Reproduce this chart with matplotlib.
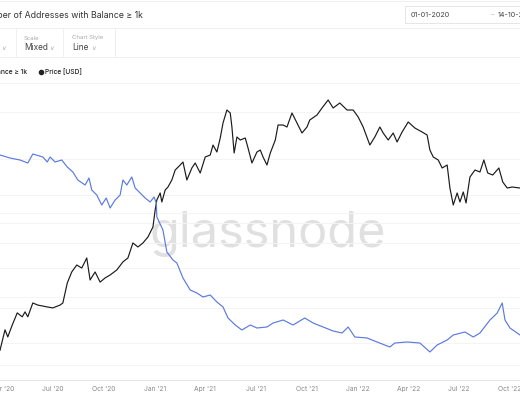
import matplotlib
matplotlib.use("Agg")
import matplotlib.pyplot as plt
import matplotlib.dates as mdates
import pandas as pd

plt.rcParams["font.family"] = ["Inter", "DejaVu Sans"]

# Price [USD] (black, log axis)
price_dates = [
    "2020-03-28", "2020-04-06", "2020-04-11", "2020-04-19", "2020-04-28", "2020-05-07",
    "2020-05-12", "2020-05-17", "2020-05-26", "2020-06-04", "2020-06-21", "2020-07-01",
    "2020-07-14", "2020-07-19", "2020-07-27", "2020-08-04", "2020-08-13", "2020-08-22",
    "2020-08-31", "2020-09-06", "2020-09-15", "2020-09-24", "2020-10-03", "2020-10-12",
    "2020-10-24", "2020-11-04", "2020-11-13", "2020-11-22", "2020-12-01", "2020-12-10",
    "2020-12-19", "2020-12-28", "2021-01-01", "2021-01-04", "2021-01-10", "2021-01-13",
    "2021-01-19", "2021-01-24", "2021-01-31", "2021-02-06", "2021-02-15", "2021-02-20",
    "2021-02-27", "2021-03-08", "2021-03-14", "2021-03-23", "2021-04-01", "2021-04-10",
    "2021-04-15", "2021-04-22", "2021-04-28", "2021-05-03", "2021-05-10", "2021-05-16",
    "2021-05-19", "2021-05-23", "2021-05-28", "2021-06-03", "2021-06-12", "2021-06-17",
    "2021-06-24", "2021-07-03", "2021-07-09", "2021-07-14", "2021-07-21", "2021-07-27",
    "2021-08-05", "2021-08-10", "2021-08-19", "2021-08-26", "2021-09-04", "2021-09-13",
    "2021-09-22", "2021-10-01", "2021-10-06", "2021-10-19", "2021-10-28", "2021-11-08",
    "2021-11-17", "2021-11-29", "2021-12-12", "2021-12-23", "2022-01-01", "2022-01-10",
    "2022-01-22", "2022-01-31", "2022-02-09", "2022-02-15", "2022-02-24", "2022-03-05",
    "2022-03-12", "2022-03-21", "2022-04-01", "2022-04-13", "2022-04-26", "2022-05-05",
    "2022-05-10", "2022-05-16", "2022-05-25", "2022-06-01", "2022-06-10", "2022-06-15",
    "2022-06-21", "2022-06-28", "2022-07-03", "2022-07-09", "2022-07-14", "2022-07-21",
    "2022-07-30", "2022-08-08", "2022-08-15", "2022-08-22", "2022-08-31", "2022-09-11",
    "2022-09-18", "2022-09-26", "2022-10-05", "2022-10-19",
]
price_usd = [
    105, 144, 129, 155, 187, 176,
    190, 176, 218, 211, 205, 202,
    211, 218, 297, 352, 392, 374,
    437, 311, 352, 301, 321, 336,
    363, 411, 437, 551, 518, 551,
    604, 705, 917, 1070, 1193, 1038,
    1249, 1308, 1458, 1701, 1838, 1925,
    1458, 1755, 1896, 1624, 2080, 2145,
    2503, 2247, 2790, 3518, 4300, 4106,
    3307, 2213, 2834, 2705, 2790, 2390,
    1896, 2247, 2317, 2080, 1838, 2213,
    2705, 3410, 3410, 3307, 4106, 3518,
    3014, 3307, 3685, 3981, 4436, 5019,
    4436, 4792, 4300, 4300, 3860, 3307,
    2503, 2834, 3307, 3014, 2705, 3014,
    2623, 3060, 3573, 3255, 3060, 2922,
    2317, 2080, 1986, 1755, 1838, 1288,
    991, 1193, 1038, 1211, 1022, 1527,
    1701, 1650, 1986, 1624, 1575, 1755,
    1413, 1288, 1308, 1288,
]

# Number of Addresses with Balance >= 1k (blue, linear axis)
addr_dates = [
    "2020-03-28", "2020-04-15", "2020-05-03", "2020-05-17", "2020-05-26", "2020-06-13",
    "2020-06-21", "2020-06-26", "2020-07-05", "2020-07-17", "2020-07-27", "2020-08-06",
    "2020-08-15", "2020-08-28", "2020-09-04", "2020-09-09", "2020-09-18", "2020-09-27",
    "2020-10-05", "2020-10-12", "2020-10-21", "2020-10-30", "2020-11-04", "2020-11-11",
    "2020-11-20", "2020-11-26", "2020-12-05", "2020-12-14", "2020-12-23", "2020-12-30",
    "2021-01-03", "2021-01-04", "2021-01-15", "2021-01-22", "2021-02-02", "2021-02-09",
    "2021-02-20", "2021-03-05", "2021-03-17", "2021-03-28", "2021-04-10", "2021-04-22",
    "2021-05-03", "2021-05-12", "2021-05-25", "2021-06-06", "2021-06-21", "2021-07-03",
    "2021-07-21", "2021-08-01", "2021-08-19", "2021-09-06", "2021-09-27", "2021-10-12",
    "2021-10-30", "2021-11-17", "2021-12-03", "2021-12-14", "2021-12-26", "2022-01-17",
    "2022-02-04", "2022-02-27", "2022-03-08", "2022-03-30", "2022-04-22", "2022-05-10",
    "2022-05-23", "2022-06-10", "2022-06-21", "2022-07-12", "2022-07-27", "2022-08-08",
    "2022-08-26", "2022-09-08", "2022-09-17", "2022-09-22", "2022-10-01", "2022-10-19",
]
addr_count = [
    1445, 1442, 1440, 1437, 1446, 1443,
    1438, 1443, 1438, 1440, 1433, 1428,
    1420, 1415, 1422, 1410, 1405, 1395,
    1402, 1392, 1400, 1405, 1420, 1415,
    1423, 1412, 1407, 1402, 1398, 1403,
    1397, 1383, 1370, 1348, 1340, 1337,
    1322, 1310, 1307, 1303, 1305, 1298,
    1293, 1282, 1275, 1270, 1275, 1272,
    1273, 1277, 1280, 1275, 1282, 1277,
    1273, 1269, 1267, 1273, 1263, 1262,
    1258, 1253, 1257, 1258, 1257, 1248,
    1255, 1260, 1265, 1268, 1263, 1267,
    1280, 1287, 1297, 1280, 1272, 1265,
]

quarter_ticks = pd.date_range("2020-04-01", "2022-10-01", freq="QS")

fig = plt.figure(figsize=(5.2, 4.0), dpi=100)
W, H = 520.0, 400.0

# header strip (page chrome)
hdr = fig.add_axes([0, 0, 1, 1])
hdr.set_xlim(0, W)
hdr.set_ylim(H, 0)
hdr.axis("off")
for yy in [1, 28, 57, 83]:
    hdr.axhline(yy, color="#efefef", lw=0.7)
for xx in [16, 63, 115]:
    hdr.plot([xx, xx], [28, 57], color="#efefef", lw=0.7)
hdr.text(143, 15, "Number of Addresses with Balance \u2265 1k", ha="right", va="center",
         fontsize=6.3, color="#333333")
hdr.add_patch(plt.Rectangle((405, 6), 140, 17, fill=False, ec="#e6e6e6", lw=0.7))
hdr.text(411, 15, "01-01-2020", ha="left", va="center", fontsize=5.2, color="#444444")
hdr.text(491, 15, "\u2013", ha="left", va="center", fontsize=5.0, color="#bbbbbb")
hdr.text(498, 15, "14-10-2022", ha="left", va="center", fontsize=5.2, color="#444444")
hdr.text(1, 48, "\u2228", ha="left", va="center", fontsize=4.5, color="#aaaaaa")
hdr.text(24, 38, "Scale", ha="left", va="center", fontsize=4.3, color="#aaaaaa")
hdr.text(24, 48, "Mixed", ha="left", va="center", fontsize=6.0, color="#444444")
hdr.text(49, 48, "\u2228", ha="left", va="center", fontsize=4.5, color="#aaaaaa")
hdr.text(72, 38, "Chart Style", ha="left", va="center", fontsize=4.3, color="#aaaaaa")
hdr.text(72, 48, "Line", ha="left", va="center", fontsize=6.0, color="#444444")
hdr.text(91, 48, "\u2228", ha="left", va="center", fontsize=4.5, color="#aaaaaa")
hdr.text(27, 72, "Balance \u2265 1k", ha="right", va="center", fontsize=4.8,
         color="#222222", fontweight="medium")
hdr.plot([40.5], [72], "o", ms=3.0, color="#222222")
hdr.text(45, 72, "Price [USD]", ha="left", va="center", fontsize=4.8,
         color="#222222", fontweight="medium")

# faint horizontal grid
grid = fig.add_axes([0, 20 / H, 1, 297 / H])
grid.set_xlim(0, 1)
grid.set_ylim(380, 83)
grid.set_yticks([83, 112, 159, 195, 213, 223, 243, 268, 297, 308, 343, 365])
grid.set_xticks([])
grid.tick_params(left=False, labelleft=False)
grid.grid(axis="y", color="#f4f4f4", lw=0.7)
for s in grid.spines.values():
    s.set_visible(False)
grid.spines["bottom"].set_visible(True)
grid.spines["bottom"].set_color("#e6e6e6")
grid.spines["bottom"].set_linewidth(0.7)
grid.text(0.515, 0.49, "glassnode", transform=grid.transAxes, ha="center", va="center",
          fontsize=35, color="#e0e0e0", zorder=0)

# price axis
ax = fig.add_axes([0, 20 / H, 1, 297 / H])
ax.patch.set_alpha(0)
ax.plot(pd.to_datetime(price_dates), price_usd, color="#1b1b1b", lw=0.85, zorder=3)
ax.set_yscale("log")
ax.set_ylim(66.3, 6527)
ax.set_xlim(pd.Timestamp("2020-03-28"), pd.Timestamp("2022-10-19"))
ax.set_yticks([])
ax.minorticks_off()
ax.tick_params(axis="y", left=False, labelleft=False, which="both")
ax.set_xticks(quarter_ticks)
ax.xaxis.set_major_formatter(mdates.DateFormatter("%b '%y"))
ax.tick_params(axis="x", length=0, pad=4, labelsize=4.8, labelcolor="#8a8a8a")
for s in ax.spines.values():
    s.set_visible(False)

# addresses axis
ax2 = ax.twinx()
ax2.plot(pd.to_datetime(addr_dates), addr_count, color="#5b7ae0", lw=0.85, zorder=3)
ax2.set_ylim(1220, 1517)
ax2.set_yticks([])
ax2.tick_params(right=False, labelright=False)
for s in ax2.spines.values():
    s.set_visible(False)

fig.savefig("out.png", dpi=100)
